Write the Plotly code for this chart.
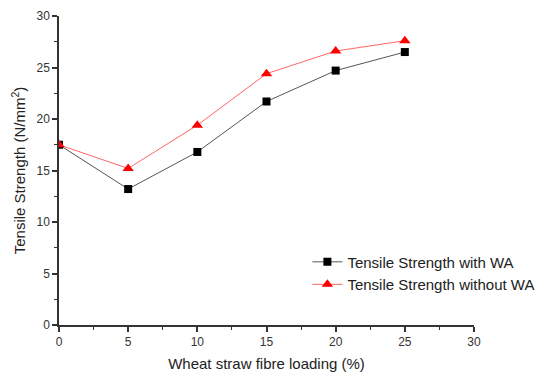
import plotly.graph_objects as go

loading = [0, 5, 10, 15, 20, 25]
ts_with_wa = [17.5, 13.2, 16.8, 21.7, 24.7, 26.5]
ts_without_wa = [17.5, 15.2, 19.4, 24.4, 26.6, 27.6]

fig = go.Figure()
fig.add_trace(go.Scatter(
    x=loading, y=ts_with_wa, mode="lines+markers",
    name="Tensile Strength with WA",
    line=dict(color="#555555", width=1),
    marker=dict(symbol="square", size=8, color="black"),
))
fig.add_trace(go.Scatter(
    x=loading, y=ts_without_wa, mode="lines+markers",
    name="Tensile Strength without WA",
    line=dict(color="#ff6666", width=1),
    marker=dict(symbol="triangle-up", size=10, color="red"),
))

axis_common = dict(
    showline=True, linecolor="#333333", linewidth=1.5,
    ticks="outside", ticklen=5, tickwidth=1.5, tickcolor="#333333",
    showgrid=False, zeroline=False, mirror=False, automargin=False,
    tickfont=dict(family="Liberation Sans, Arial", size=12, color="#333333"),
    minor=dict(ticks="outside", ticklen=3, tickwidth=1, tickcolor="#333333", dtick=2.5),
)

fig.update_layout(
    width=540, height=368,
    margin=dict(l=51, r=70, t=8, b=51),
    paper_bgcolor="white", plot_bgcolor="white",
    font=dict(family="Liberation Sans, Arial", color="#222222"),
    xaxis=dict(range=[0, 30], dtick=5, tick0=0,
               title=dict(text="Wheat straw fibre loading (%)", font=dict(size=15), standoff=10),
               **axis_common),
    yaxis=dict(range=[0, 30], dtick=5, tick0=0,
               title=dict(text="Tensile Strength (N/mm<sup>2</sup>)", font=dict(size=15), standoff=7),
               **axis_common),
    legend=dict(x=1.16, y=0.257, xanchor="right", yanchor="top",
                bgcolor="rgba(0,0,0,0)", font=dict(size=15, color="#222222"),
                tracegroupgap=0, itemwidth=30),
    showlegend=True,
)

fig.write_html("out.html")
